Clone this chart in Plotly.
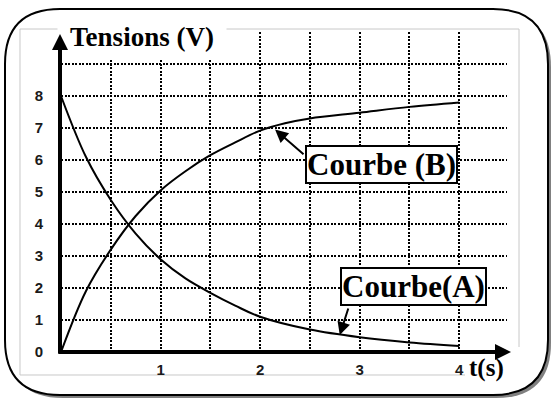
import plotly.graph_objects as go

# values
t_a = [0, 0.25, 0.5, 0.75, 1, 1.25, 1.5, 1.75, 2, 2.5, 3, 3.5, 4]
u_a = [8, 6.1, 4.75, 3.7, 2.9, 2.3, 1.85, 1.45, 1.1, 0.7, 0.46, 0.3, 0.19]

t_b = [0, 0.25, 0.5, 0.75, 1, 1.25, 1.5, 1.75, 2, 2.25, 2.5, 3, 3.5, 4]
u_b = [0, 1.9, 3.2, 4.25, 5.05, 5.65, 6.15, 6.55, 6.92, 7.15, 7.3, 7.48, 7.66, 7.8]

x_ticks = [0.5, 1, 1.5, 2, 2.5, 3, 3.5, 4]
x_labels = ["", "1", "", "2", "", "3", "", "4"]
y_ticks = [0, 1, 2, 3, 4, 5, 6, 7, 8, 9]
y_labels = ["0", "1", "2", "3", "4", "5", "6", "7", "8", ""]

W, H = 552, 399
L, T, PW, PH = 61, 32, 446, 320


def px(x):
    return (x - L) / PW


def py(y):
    return (T + PH - y) / PH


def pt(x, y):
    return f"{px(x):.5f},{py(y):.5f}"


def rounded(x0, y0, x1, y1, r):
    return (f"M{pt(x0 + r, y0)} L{pt(x1 - r, y0)} Q{pt(x1, y0)} {pt(x1, y0 + r)} "
            f"L{pt(x1, y1 - r)} Q{pt(x1, y1)} {pt(x1 - r, y1)} "
            f"L{pt(x0 + r, y1)} Q{pt(x0, y1)} {pt(x0, y1 - r)} "
            f"L{pt(x0, y0 + r)} Q{pt(x0, y0)} {pt(x0 + r, y0)} Z")


serif = "Liberation Serif"
mid = dict(xanchor="center", yanchor="middle")

fig = go.Figure()
fig.add_trace(go.Scatter(x=t_a, y=u_a, mode="lines", line=dict(color="black", width=2, shape="spline")))
fig.add_trace(go.Scatter(x=t_b, y=u_b, mode="lines", line=dict(color="black", width=2, shape="spline")))

shapes = [
    # shadow + rounded frame
    dict(type="path", xref="paper", yref="paper", layer="below",
         path=rounded(8, 12, 551, 398, 55), fillcolor="#808080", line=dict(width=0)),
    dict(type="path", xref="paper", yref="paper", layer="below",
         path=rounded(5, 9, 548, 395, 55), fillcolor="white", line=dict(color="black", width=2)),
    # faint border of the pasted picture
    dict(type="path", xref="paper", yref="paper", layer="below",
         path=f"M{pt(519, 347)} L{pt(519, 29)} L{pt(20, 29)} L{pt(20, 375)} L{pt(465, 375)}",
         line=dict(color="#c8c8c8", width=1)),
]

anns = [
    # title with white background
    dict(xref="paper", yref="paper", x=px(142), y=py(37), text="<b>Tensions (V)</b>", showarrow=False,
         font=dict(family=serif, size=27, color="black"), bgcolor="white", width=166, height=42, **mid),
    dict(xref="paper", yref="paper", x=px(486), y=py(368), text="<b>t(s)</b>", showarrow=False,
         font=dict(family=serif, size=25, color="black"), **mid),
    # axes with arrows
    dict(xref="paper", yref="paper", x=px(511), y=py(352), ax=-454, ay=0, text="", showarrow=True,
         arrowhead=2, arrowwidth=4, arrowsize=0.8, arrowcolor="black"),
    dict(xref="paper", yref="paper", x=px(60), y=py(34), ax=0, ay=321, text="", showarrow=True,
         arrowhead=2, arrowwidth=4, arrowsize=0.8, arrowcolor="black"),
    # labels
    dict(xref="paper", yref="paper", x=px(381.5), y=py(164), text="<b>Courbe (B)</b>", showarrow=False,
         font=dict(family=serif, size=31, color="black"), bgcolor="white",
         bordercolor="black", borderwidth=2, borderpad=0, **mid),
    dict(xref="paper", yref="paper", x=px(413.5), y=py(286.5), text="<b>Courbe(A)</b>", showarrow=False,
         font=dict(family=serif, size=31, color="black"), bgcolor="white",
         bordercolor="black", borderwidth=2, borderpad=0, **mid),
    dict(x=2.15, y=6.95, ax=30, ay=26, text="", showarrow=True,
         arrowhead=2, arrowwidth=2, arrowsize=1.3, arrowcolor="black"),
    dict(x=2.80, y=0.53, ax=9, ay=-28, text="", showarrow=True,
         arrowhead=2, arrowwidth=2, arrowsize=1.3, arrowcolor="black"),
]

tick_font = dict(family="Liberation Sans", size=15, color="#1a1a1a", weight="bold")

fig.update_layout(
    width=W, height=H,
    margin=dict(l=L, r=W - L - PW, t=T, b=H - T - PH),
    paper_bgcolor="white", plot_bgcolor="rgba(0,0,0,0)",
    showlegend=False,
    shapes=shapes, annotations=anns,
    xaxis=dict(range=[0, 4.48], tickvals=x_ticks, ticktext=x_labels, showgrid=True,
               gridcolor="black", griddash="2px,1.5px", gridwidth=1.5, zeroline=False, showline=False,
               ticks="outside", ticklen=4, tickcolor="rgba(0,0,0,0)", tickfont=tick_font),
    yaxis=dict(range=[0, 10], tickvals=y_ticks, ticktext=y_labels, showgrid=True,
               gridcolor="black", griddash="2px,1.5px", gridwidth=1.5, zeroline=False, showline=False,
               ticks="outside", ticklen=14, tickcolor="rgba(0,0,0,0)", tickfont=tick_font),
)

fig.write_html("out.html", config={"displayModeBar": False},
               post_script="document.body.style.margin='0';")
